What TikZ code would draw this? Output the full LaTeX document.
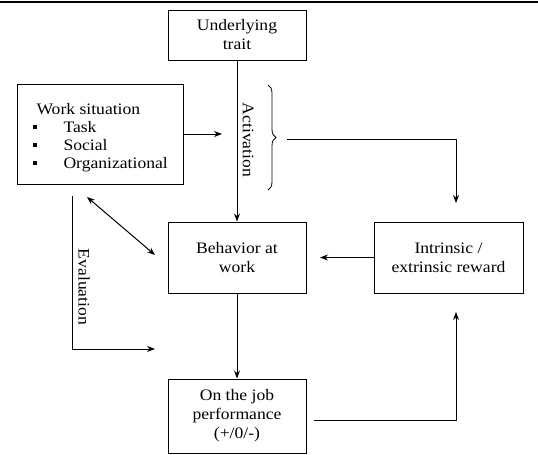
\documentclass[tikz,border=0pt]{standalone}
\usepackage{fontspec}
\setmainfont{Liberation Serif}[FakeStretch=1.1]
\usepackage{tikz}
\usetikzlibrary{arrows.meta, decorations.pathreplacing}

\tikzset{
  box/.style={draw, line width=1pt, align=center, inner sep=0pt},
  flow/.style={line width=1pt, -{Stealth[length=8pt, width=6pt]}},
  sq/.style={fill=black, inner sep=0pt, minimum size=3.5pt}
}

\begin{document}
\begin{tikzpicture}[x=1pt, y=-1pt, font=\fontsize{16}{19}\selectfont]
  \useasboundingbox (0,0) rectangle (538,455);
  % top rule
  \draw[line width=1.2pt] (0,2) -- (538,2);

  % Boxes
  \node[box, minimum width=138pt, minimum height=50pt] (trait) at (237,35) {Underlying\\trait};
  \node[box, minimum width=166pt, minimum height=100pt] (work) at (100,134) {};
  \node[anchor=base west] (wtitle) at (33,114) {Work situation};
  \node[anchor=base west] (wtask) at (60,132) {Task};
  \node[anchor=base west] (wsoc) at (60,150) {Social};
  \node[anchor=base west] (worg) at (60,168) {Organizational};
  \node[sq] at (35,127) {};
  \node[sq] at (35,145) {};
  \node[sq] at (35,163) {};
  \node[box, minimum width=138pt, minimum height=71pt] (behav) at (237,257.5) {Behavior at\\work};
  \node[box, minimum width=149pt, minimum height=71pt] (reward) at (448.5,257.5) {Intrinsic /\\extrinsic reward};
  \node[box, minimum width=138pt, minimum height=74pt] (perf) at (237,416) {On the job\\performance\\(+/0/-)};

  % Activation
  \node[rotate=-90] (act) at (248,140) {Activation};
  \draw[line width=0.8pt, decorate, decoration={brace, amplitude=8pt}] (268,85) -- (268,190);
  \coordinate (bl) at (287,139);
  \coordinate (rt) at (456,203);
  \coordinate (wa) at (222,134);
  \draw[flow] (trait) -- (behav);
  \draw[flow] (work.east |- wa) -- (wa);
  \draw[flow] (bl) -| (rt);

  % Reward back to behavior
  \coordinate (ra) at (320,257.5);
  \draw[flow] (reward.west) -- (ra);

  % Work situation <-> behavior
  \coordinate (d1) at (87,197);
  \coordinate (d2) at (155,255);
  \draw[flow, {Stealth[length=8pt, width=6pt]}-{Stealth[length=8pt, width=6pt]}] (d1) -- (d2);

  % Evaluation
  \node[rotate=-90] (eval) at (84,287) {Evaluation};
  \coordinate (e1) at (72,196);
  \coordinate (e2) at (155,349);
  \draw[flow] (e1) |- (e2);

  % Performance
  \draw[flow] (behav) -- (perf);
  \coordinate (pa) at (456,312);
  \draw[flow] (perf.east |- 0,420) ++(7,0) -| (pa);
\end{tikzpicture}
\end{document}
